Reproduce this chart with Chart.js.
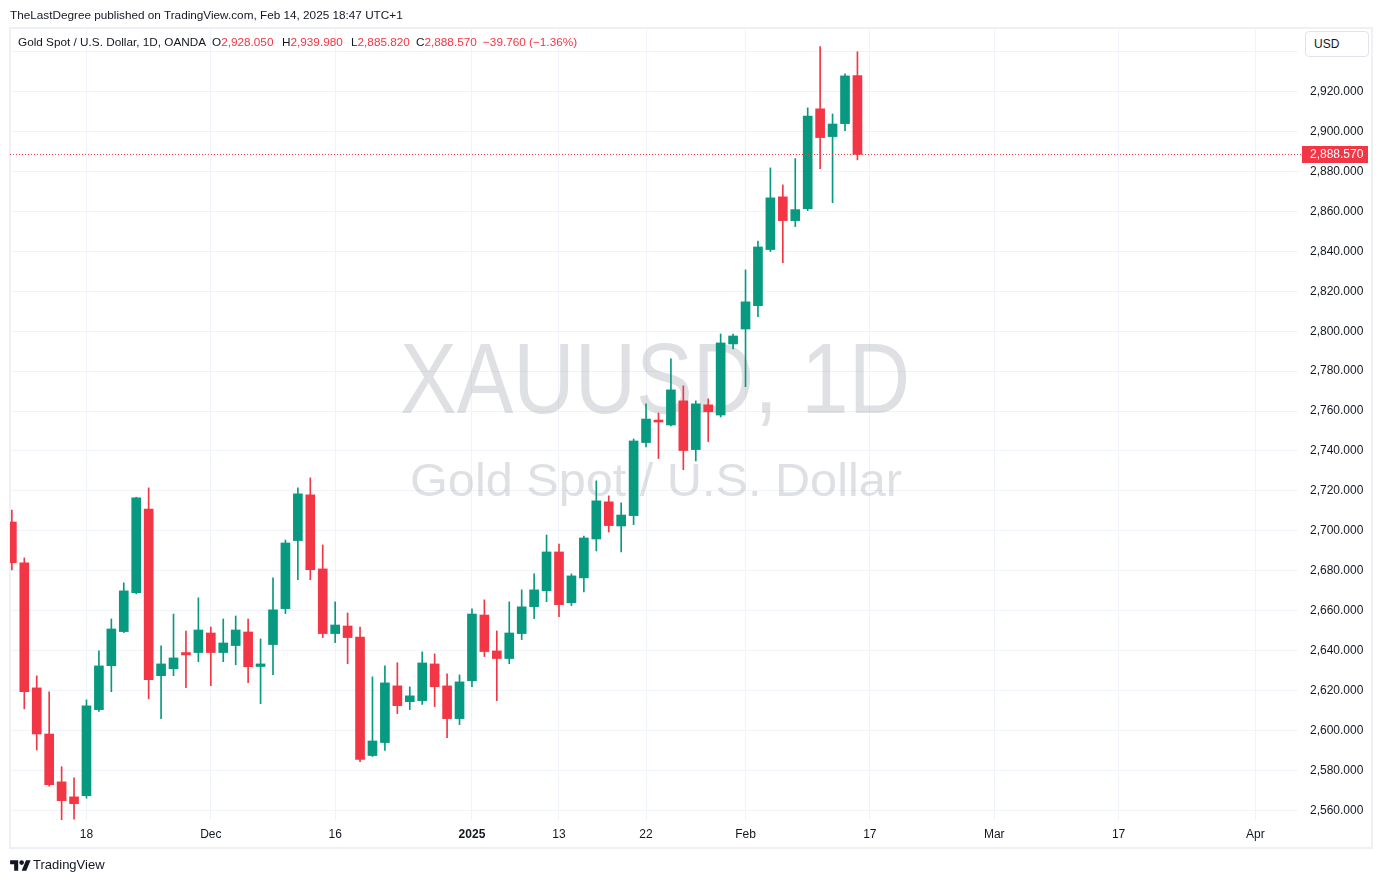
<!DOCTYPE html>
<html>
<head>
<meta charset="utf-8">
<script src="https://cdn.jsdelivr.net/npm/chart.js@4.4.1/dist/chart.umd.min.js"></script>
<style>
  html, body { margin:0; padding:0; background:#ffffff; width:1383px; height:883px; overflow:hidden;
    font-family:"Liberation Sans", Arial, sans-serif; color:#131722; }
  #frame { position:absolute; left:9px; top:27px; width:1364px; height:822px; box-sizing:border-box;
    border:2px solid #eef0f3; }
  #chart { position:absolute; left:0; top:0; }
  .t { position:absolute; white-space:nowrap; font-size:11.75px; line-height:14px; }
  .red { color:#F23645; }
  #usd { position:absolute; left:1305px; top:31px; width:64px; height:26px; box-sizing:border-box;
    border:1px solid #e0e3eb; border-radius:4px; background:#fff; font-size:12px; line-height:24px;
    padding-left:8px; color:#131722; }
  #logo { position:absolute; left:10px; top:858px; }
</style>
</head>
<body>
<div id="frame"></div>
<canvas id="chart" width="1383" height="883"></canvas>

<div class="t" style="left:10px; top:8px;">TheLastDegree published on TradingView.com, Feb 14, 2025 18:47 UTC+1</div>
<div class="t" style="left:18px; top:35px;">Gold Spot / U.S. Dollar, 1D, OANDA</div>
<div class="t" style="left:212px; top:35px;">O<span class="red">2,928.050</span></div>
<div class="t" style="left:282px; top:35px;">H<span class="red">2,939.980</span></div>
<div class="t" style="left:351px; top:35px;">L<span class="red">2,885.820</span></div>
<div class="t" style="left:416px; top:35px;">C<span class="red">2,888.570</span></div>
<div class="t red" style="left:483px; top:35px;">−39.760 (−1.36%)</div>
<div id="usd">USD</div>

<svg id="logo" width="21" height="15" viewBox="0 0 36 26"><path fill="#131722" d="M14 22H7V11H0V4h14v18zM28 22h-8l7.5-18h8L28 22z"/><circle fill="#131722" cx="20" cy="8" r="4"/></svg>
<div class="t" style="left:33px; top:857px; font-size:13px; line-height:16px;">TradingView</div>

<script>
// ---- categories: trading days (history) and future days on the time axis ----
const dates = [
  '2024-11-08','2024-11-11','2024-11-12','2024-11-13','2024-11-14','2024-11-15',
  '2024-11-18','2024-11-19','2024-11-20','2024-11-21','2024-11-22',
  '2024-11-25','2024-11-26','2024-11-27','2024-11-28','2024-11-29',
  '2024-12-02','2024-12-03','2024-12-04','2024-12-05','2024-12-06',
  '2024-12-09','2024-12-10','2024-12-11','2024-12-12','2024-12-13',
  '2024-12-16','2024-12-17','2024-12-18','2024-12-19','2024-12-20',
  '2024-12-23','2024-12-24','2024-12-26','2024-12-27',
  '2024-12-30','2024-12-31','2025-01-02','2025-01-03',
  '2025-01-06','2025-01-07','2025-01-08','2025-01-09','2025-01-10',
  '2025-01-13','2025-01-14','2025-01-15','2025-01-16','2025-01-17',
  '2025-01-20','2025-01-21','2025-01-22','2025-01-23','2025-01-24',
  '2025-01-27','2025-01-28','2025-01-29','2025-01-30','2025-01-31',
  '2025-02-03','2025-02-04','2025-02-05','2025-02-06','2025-02-07',
  '2025-02-10','2025-02-11','2025-02-12','2025-02-13','2025-02-14'
];
const futureDates = [
  '2025-02-17','2025-02-18','2025-02-19','2025-02-20','2025-02-21',
  '2025-02-24','2025-02-25','2025-02-26','2025-02-27','2025-02-28',
  '2025-03-03','2025-03-04','2025-03-05','2025-03-06','2025-03-07',
  '2025-03-10','2025-03-11','2025-03-12','2025-03-13','2025-03-14',
  '2025-03-17','2025-03-18','2025-03-19','2025-03-20','2025-03-21',
  '2025-03-24','2025-03-25','2025-03-26','2025-03-27','2025-03-28',
  '2025-03-31','2025-04-01','2025-04-02','2025-04-03','2025-04-04'
];

// ---- OHLC series ----
const open = [
  2704.4,2683.9,2621.3,2598.2,2574.2,2566.7,
  2567.3,2610.4,2632.4,2649.5,2669.0,
  2710.9,2627.4,2630.9,2639.0,2639.0,
  2648.8,2639.0,2642.5,2649.3,2632.0,
  2643.0,2661.0,2695.1,2718.0,2680.9,
  2648.5,2652.3,2646.8,2587.4,2593.9,
  2622.3,2614.4,2614.9,2633.3,
  2622.3,2605.9,2624.9,2657.8,
  2639.8,2636.0,2648.5,2662.0,2670.0,
  2689.4,2664.0,2676.4,2695.9,2714.5,
  2702.4,2707.6,2744.2,2755.5,2753.0,
  2765.1,2740.7,2763.1,2758.0,2793.6,
  2801.1,2812.8,2840.9,2867.3,2855.4,
  2861.4,2911.4,2897.5,2904.0,2928.05
];
const high = [
  2710.4,2686.4,2627.3,2619.3,2581.8,2576.2,
  2615.3,2639.8,2655.8,2673.9,2716.8,
  2721.5,2642.3,2658.3,2649.8,2666.4,
  2651.8,2655.8,2657.3,2655.8,2645.8,
  2676.4,2695.4,2721.5,2726.5,2692.9,
  2664.4,2658.8,2651.8,2626.8,2632.3,
  2633.9,2621.8,2639.3,2638.3,
  2628.3,2627.8,2660.9,2665.4,
  2649.8,2664.4,2670.4,2678.4,2697.9,
  2693.4,2678.4,2697.4,2725.0,2717.5,
  2714.0,2746.0,2763.6,2759.0,2786.1,
  2772.6,2765.1,2766.1,2798.6,2798.6,
  2830.7,2845.2,2881.8,2873.3,2886.5,
  2911.9,2942.6,2908.8,2928.9,2939.98
];
const low = [
  2680.4,2610.8,2590.2,2572.0,2555.0,2555.5,
  2566.0,2609.5,2619.4,2649.0,2668.4,
  2615.8,2605.9,2627.4,2621.4,2634.4,
  2622.4,2634.4,2632.9,2623.9,2613.4,
  2627.9,2658.5,2675.5,2675.5,2646.5,
  2644.0,2633.4,2584.3,2586.9,2589.9,
  2608.4,2610.4,2613.0,2611.9,
  2596.4,2602.9,2621.9,2637.0,
  2614.9,2633.4,2645.5,2656.0,2664.5,
  2657.0,2662.5,2669.4,2689.9,2699.4,
  2689.4,2703.1,2742.0,2736.2,2752.5,
  2730.6,2735.0,2744.7,2757.0,2791.1,
  2772.2,2807.3,2839.9,2834.3,2852.4,
  2860.4,2881.4,2864.4,2900.5,2885.82
];
const close = [
  2684.0,2619.4,2598.2,2572.8,2564.8,2563.3,
  2612.3,2632.3,2650.8,2669.9,2716.5,
  2625.4,2633.3,2636.3,2637.8,2650.3,
  2639.0,2643.8,2650.3,2631.9,2633.3,
  2660.4,2693.9,2718.5,2680.5,2648.5,
  2652.8,2646.5,2585.4,2594.7,2623.8,
  2612.4,2617.3,2633.8,2621.9,
  2605.9,2624.3,2658.3,2639.5,
  2636.0,2648.8,2661.9,2670.4,2689.4,
  2663.0,2677.4,2696.4,2715.0,2702.6,
  2707.9,2745.0,2756.0,2754.5,2770.6,
  2740.2,2763.6,2759.7,2794.1,2797.6,
  2814.7,2842.2,2866.8,2855.4,2860.9,
  2907.8,2897.0,2903.8,2927.9,2888.57
];

// ---- axis tick labels ----
const xTickDates  = ['2024-11-18','2024-12-02','2024-12-16','2025-01-02','2025-01-13','2025-01-22','2025-02-03','2025-02-17','2025-03-03','2025-03-17','2025-04-01'];
const xTickLabels = ['18','Dec','16','2025','13','22','Feb','17','Mar','17','Apr'];
const xBoldLabels = ['2025'];
const yTickValues = [2560,2580,2600,2620,2640,2660,2680,2700,2720,2740,2760,2780,2800,2820,2840,2860,2880,2900,2920,2940];
const yHiddenLabels = [2940];

const watermarkTitle = 'XAUUSD, 1D';
const watermarkSubtitle = 'Gold Spot / U.S. Dollar';

// ---- build ----
const UP = '#089981', DOWN = '#F23645';
const allDates = dates.concat(futureDates);
const idx = d => allDates.indexOf(d);
const colors = open.map((o, i) => close[i] >= o ? UP : DOWN);
const bodies = open.map((o, i) => ({ x: i, y: [o, close[i]] }));
const wicks  = open.map((o, i) => ({ x: i, y: [low[i], high[i]] }));
const xTickIdx = xTickDates.map(idx);
const lastClose = close[close.length - 1];
const lastIsDown = close[close.length - 1] < open[open.length - 1];
const fmtPrice = v => v.toLocaleString('en-US', { minimumFractionDigits: 3, maximumFractionDigits: 3 });

const FONT = '"Liberation Sans", Arial, sans-serif';

const watermark = {
  id: 'watermark',
  beforeDatasetsDraw(chart) {
    const { ctx, chartArea: a } = chart;
    const cx = (a.left + a.right) / 2;
    ctx.save();
    ctx.beginPath(); ctx.rect(a.left, a.top, a.right - a.left, a.bottom - a.top); ctx.clip();
    ctx.fillStyle = 'rgba(149,152,161,0.3)';
    ctx.textAlign = 'center'; ctx.textBaseline = 'alphabetic';
    ctx.font = '101px ' + FONT;
    let w = ctx.measureText(watermarkTitle).width;
    ctx.save(); ctx.translate(cx + 1, 413); ctx.scale(510 / w, 1); ctx.fillText(watermarkTitle, 0, 0); ctx.restore();
    ctx.font = '46px ' + FONT;
    w = ctx.measureText(watermarkSubtitle).width;
    ctx.save(); ctx.translate(cx + 2, 496); ctx.scale(492 / w, 1); ctx.fillText(watermarkSubtitle, 0, 0); ctx.restore();
    ctx.restore();
  }
};

const lastPrice = {
  id: 'lastPrice',
  afterDatasetsDraw(chart) {
    const { ctx, chartArea: a } = chart;
    const y = Math.round(chart.scales.y.getPixelForValue(lastClose)) + 0.5;
    ctx.save();
    ctx.strokeStyle = lastIsDown ? DOWN : UP; ctx.lineWidth = 1; ctx.setLineDash([1, 2]);
    ctx.beginPath(); ctx.moveTo(a.left, y); ctx.lineTo(a.right + 3, y); ctx.stroke();
    ctx.restore();
  },
  afterDraw(chart) {
    const { ctx, chartArea: a } = chart;
    const y = chart.scales.y.getPixelForValue(lastClose);
    ctx.save();
    ctx.fillStyle = lastIsDown ? DOWN : UP;
    ctx.fillRect(a.right + 4, Math.round(y) - 8, 66, 17);
    ctx.fillStyle = '#ffffff'; ctx.font = '12px ' + FONT;
    ctx.textAlign = 'left'; ctx.textBaseline = 'middle';
    ctx.fillText(fmtPrice(lastClose), a.right + 12, Math.round(y) + 1);
    ctx.restore();
  }
};

new Chart(document.getElementById('chart'), {
  type: 'bar',
  data: {
    datasets: [
      { label: 'body', data: bodies, backgroundColor: colors, borderWidth: 0, barThickness: 9,
        minBarLength: 1, grouped: false, order: 1 },
      { label: 'wick', data: wicks, backgroundColor: colors, borderWidth: 0, barThickness: 1,
        grouped: false, order: 2 }
    ]
  },
  options: {
    responsive: false, animation: false, devicePixelRatio: 1,
    layout: { padding: { left: 10, top: 28, right: 11, bottom: 36 } },
    plugins: { legend: { display: false }, tooltip: { enabled: false } },
    scales: {
      x: {
        type: 'linear', min: -0.15, max: 103.43, offset: false,
        afterBuildTicks: s => { s.ticks = xTickIdx.map(v => ({ value: v })); },
        afterFit: s => { s.height = 27; },
        grid: { color: '#f0f3fa', drawTicks: false, offset: false },
        border: { display: false },
        ticks: {
          autoSkip: false, maxRotation: 0, padding: 7, color: '#131722',
          font: c => ({ family: FONT, size: 12, weight: (c.tick && xBoldLabels.includes(xTickLabels[c.index])) ? 'bold' : 'normal' }),
          callback: (v, i) => xTickLabels[i]
        }
      },
      y: {
        type: 'linear', position: 'right', min: 2555.1, max: 2951.9,
        afterBuildTicks: s => { s.ticks = yTickValues.map(v => ({ value: v })); },
        afterFit: s => { s.width = 74; },
        grid: { color: '#f0f3fa', drawTicks: false },
        border: { display: false },
        ticks: {
          padding: 12, color: '#131722', font: { family: FONT, size: 12 },
          callback: v => yHiddenLabels.includes(v) ? '' : fmtPrice(v)
        }
      }
    }
  },
  plugins: [watermark, lastPrice]
});
</script>
</body>
</html>
